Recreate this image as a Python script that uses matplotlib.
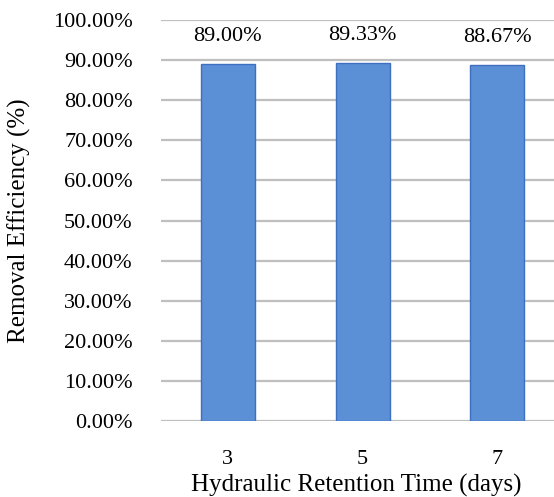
import matplotlib.pyplot as plt
import numpy as np

# donnees
hrt = ["3", "5", "7"]
efficiency = [89.00, 89.33, 88.67]
yticks = [0, 10, 20, 30, 40, 50, 60, 70, 80, 90, 100]

plt.rcParams['font.family'] = ['Liberation Serif', 'DejaVu Serif']

fig = plt.figure(figsize=(5.54, 4.97), dpi=100)
ax = fig.add_axes([160.5/554, 1 - 421/497, 1 - 160.5/554, 401/497])

x = np.arange(len(hrt))
bars = ax.bar(x, efficiency, width=0.4, color="#5B8FD6", edgecolor="#3F6FC0", linewidth=1.0, zorder=3)

# etiquettes au-dessus des barres
for xi, v in zip(x, efficiency):
    ax.annotate(f"{v:.2f}%", (xi, v), xytext=(0, 20), textcoords="offset points",
                ha="center", va="center", fontsize=16)

ax.set_ylim(0, 100)
ax.set_xlim(-0.5, 2.42)
ax.set_yticks(yticks)
ax.set_yticklabels([f"{t:.2f}%" for t in yticks], fontsize=16)
ax.set_xticks(x)
ax.set_xticklabels(hrt, fontsize=16)
ax.yaxis.grid(True, color="#BFBFBF", linewidth=1.6, zorder=0)
ax.set_axisbelow(True)
for s in ax.spines.values():
    s.set_visible(False)
ax.tick_params(axis="both", length=0)
ax.tick_params(axis="y", pad=20)
ax.tick_params(axis="x", pad=21)

ax.set_ylabel("Removal Efficiency (%)", fontsize=18)
ax.yaxis.set_label_coords(-0.36, 0.5)
ax.yaxis.label.set_va("center")
ax.set_xlabel("Hydraulic Retention Time (days)", fontsize=18)
ax.xaxis.set_label_coords(0.497, -0.16)
ax.xaxis.label.set_va("center")

fig.savefig("out.png", dpi=100)
